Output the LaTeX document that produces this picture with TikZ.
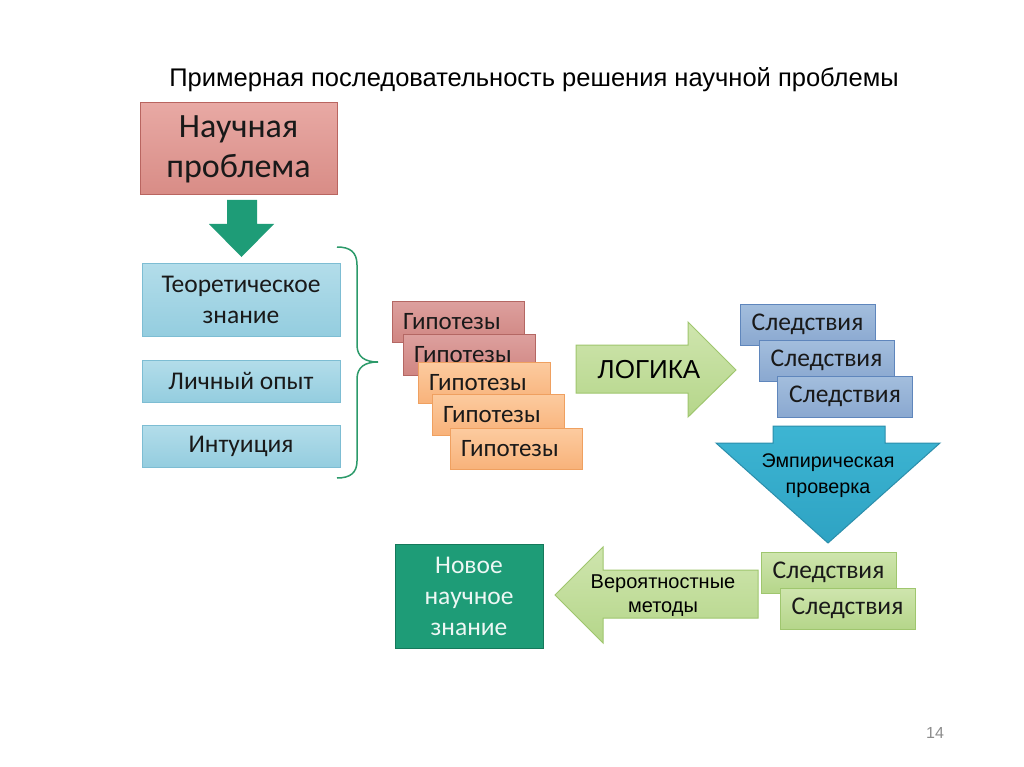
\documentclass[tikz,border=0pt]{standalone}
\usepackage{fontspec}
\setmainfont{Carlito}
\newfontfamily\arialfont{Liberation Sans}
\usetikzlibrary{positioning,calc}

\definecolor{probtop}{HTML}{E8A9A4}
\definecolor{probbot}{HTML}{D88C86}
\definecolor{probline}{HTML}{B96560}
\definecolor{newgreen}{HTML}{1E9C77}
\definecolor{newline}{HTML}{15795B}
\definecolor{cyantop}{HTML}{B3DDEA}
\definecolor{cyanbot}{HTML}{94CDDF}
\definecolor{cyanline}{HTML}{7DBDD3}
\definecolor{bracegreen}{HTML}{2C9A6A}
\definecolor{redtop}{HTML}{DDA09E}
\definecolor{redbot}{HTML}{D08682}
\definecolor{redline}{HTML}{B46763}
\definecolor{orangetop}{HTML}{FCCB9F}
\definecolor{orangebot}{HTML}{F8B27A}
\definecolor{orangeline}{HTML}{EFA060}
\definecolor{limetop}{HTML}{CFE5AE}
\definecolor{limebot}{HTML}{B5D68A}
\definecolor{limeline}{HTML}{9FC66E}
\definecolor{bluetop}{HTML}{A3BEDD}
\definecolor{bluebot}{HTML}{8AA8D0}
\definecolor{blueline}{HTML}{5F86BC}
\definecolor{emptop}{HTML}{3DB5D3}
\definecolor{empbot}{HTML}{2EA3C3}
\definecolor{empline}{HTML}{2B8EAB}

\begin{document}
\begin{tikzpicture}[x=1pt,y=-1pt]
\tikzstyle{box}=[draw,line width=1pt,inner sep=0pt,align=center,text=black!90]
\tikzstyle{problembox}=[box,top color=probtop,bottom color=probbot,draw=probline,minimum width=197pt,minimum height=92pt,font=\fontsize{34}{40}\selectfont]
\tikzstyle{sourcebox}=[box,top color=cyantop,bottom color=cyanbot,draw=cyanline,minimum width=198pt,font=\fontsize{25.5}{31}\selectfont]
\tikzstyle{hypo}=[box,minimum height=41pt,text width=110pt,inner xsep=11pt,align=left,font=\fontsize{25}{28}\selectfont]
\tikzstyle{hypored}=[hypo,top color=redtop,bottom color=redbot,draw=redline]
\tikzstyle{hypoorange}=[hypo,top color=orangetop,bottom color=orangebot,draw=orangeline]
\tikzstyle{result}=[box,minimum width=135pt,minimum height=41pt,font=\fontsize{25.5}{28}\selectfont]
\tikzstyle{resultblue}=[result,top color=bluetop,bottom color=bluebot,draw=blueline]
\tikzstyle{resultgreen}=[result,top color=limetop,bottom color=limebot,draw=limeline]
\tikzstyle{blockarrow}=[line width=1pt,line join=miter]

\useasboundingbox[fill=white] (0,0) rectangle (1024,767);

\node (title) at (534,80) {\arialfont\fontsize{25.5}{30}\selectfont Примерная последовательность решения научной проблемы};

% problem and its sources
\node [problembox] (problem) at (238.5,149) {Научная\\проблема};
\fill [newgreen] (227,200) -- (257,200) -- (257,224) -- (274,224) -- (241.5,257) -- (209,224) -- (227,224) -- cycle;

\node [sourcebox,minimum height=73pt] (theory) at (241,299.5) {Теоретическое\\знание};
\node [sourcebox,minimum height=42pt] (experience) at (241,381) {Личный опыт};
\node [sourcebox,minimum height=42pt] (intuition) at (241,446) {Интуиция};

\draw [bracegreen,line width=1.5pt] (337,247) .. controls (350,247) and (357,252) .. (357,265) -- (357,345) .. controls (357,357) and (365,362) .. (378,362) .. controls (365,362) and (357,367) .. (357,379) -- (357,461) .. controls (357,473) and (350,478) .. (337,478);

% hypotheses
\node [hypored] (hyp1) at (458,321.5) {Гипотезы};
\node [hypored] (hyp2) at (469,354.5) {Гипотезы};
\node [hypoorange] (hyp3) at (484,383) {Гипотезы};
\node [hypoorange] (hyp4) at (498,414.5) {Гипотезы};
\node [hypoorange] (hyp5) at (516,449) {Гипотезы};

\draw [blockarrow,top color=limetop,bottom color=limebot,draw=limeline] (576,345) -- (688,345) -- (688,322) -- (736,370) -- (688,417) -- (688,393) -- (576,393) -- cycle;
\node (logic) at (649,370) {\arialfont\fontsize{26}{30}\selectfont ЛОГИКА};

% consequences
\node [resultblue] (cons1) at (807.5,324.5) {Следствия};
\node [resultblue] (cons2) at (826.5,360.5) {Следствия};
\node [resultblue] (cons3) at (845,396.5) {Следствия};

\draw [blockarrow,top color=emptop,bottom color=empbot,draw=empline] (773,426) -- (885,426) -- (885,443) -- (940,443) -- (828,543) -- (716,443) -- (773,443) -- cycle;
\node [align=center,font=\arialfont\fontsize{19.7}{26}\selectfont] (check) at (828,476) {Эмпирическая\\проверка};

\node [resultgreen] (cons4) at (828.5,572.5) {Следствия};
\node [resultgreen] (cons5) at (847.5,608.5) {Следствия};

\draw [blockarrow,top color=limetop,bottom color=limebot,draw=limeline] (758,570) -- (603,570) -- (603,547) -- (555,595) -- (603,643) -- (603,618) -- (758,618) -- cycle;
\node [align=center,font=\arialfont\fontsize{20}{24}\selectfont] (methods) at (663,596) {Вероятностные\\методы};

\node [box,fill=newgreen,draw=newline,text=white!92!newgreen,minimum width=148pt,minimum height=104pt,font=\fontsize{25.5}{31}\selectfont] (knowledge) at (469,596) {Новое\\научное\\знание};

\node [text=black!45] (page) at (935,733) {\arialfont\fontsize{16}{19}\selectfont 14};
\end{tikzpicture}
\end{document}
